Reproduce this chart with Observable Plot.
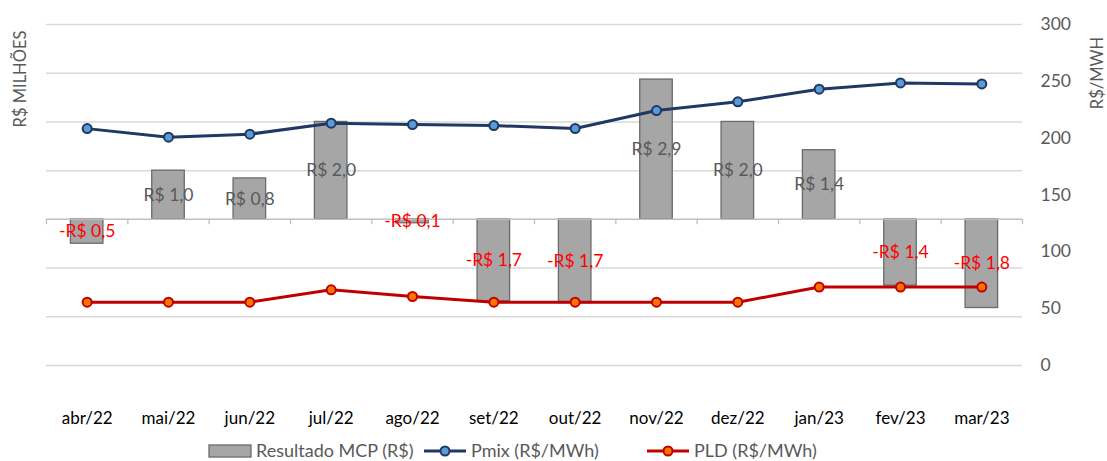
<!DOCTYPE html>
<html>
<head>
<meta charset="utf-8">
<script src="https://cdn.jsdelivr.net/npm/d3@7"></script>
<script src="https://cdn.jsdelivr.net/npm/@observablehq/plot@0.6"></script>
<style>
  html, body { margin: 0; padding: 0; background: #fff; }
  #wrap { position: relative; width: 1107px; height: 461px; overflow: hidden; font-family: Lato, "Liberation Sans", sans-serif; }
  #legend { position: absolute; left: 0; top: 441px; width: 1107px; height: 19px; font-size: 18px; line-height: 19px; color: #595959; white-space: nowrap; }
  #legend .item { position: absolute; top: 0; height: 19px; display: flex; align-items: center; }
  #legend svg { margin-right: 4px; display: block; }
  .atitle { position: absolute; font-size: 16.5px; color: #595959; white-space: nowrap; transform: translate(-50%, -50%) rotate(-90deg); }
</style>
</head>
<body>
<div id="wrap">
  <div id="chart"></div>
  <div class="atitle" id="ltitle" style="left:20px; top:79px;">R$ MILHÕES</div>
  <div class="atitle" id="rtitle" style="left:1097px; top:73px;">R$/MWH</div>
  <div id="legend"></div>
</div>
<script>
const months = ["abr/22","mai/22","jun/22","jul/22","ago/22","set/22","out/22","nov/22","dez/22","jan/23","fev/23","mar/23"];
const mcp = [-0.5, 1.0, 0.84, 2.0, -0.08, -1.68, -1.72, 2.87, 2.0, 1.42, -1.36, -1.82];
const pmix = [208.4, 200.9, 203.5, 213.2, 212.0, 211.1, 208.5, 224.3, 232.0, 243.1, 248.6, 247.7];
const pld = [55.7, 55.7, 55.7, 66.6, 60.7, 55.7, 55.7, 55.7, 55.7, 69.04, 69.04, 69.04];
const leftTicks = [-3, -2, -1, 0, 1, 2, 3, 4];
const rightTicks = [0, 50, 100, 150, 200, 250, 300];
const rightMax = 300;
const leftMin = -3, leftMax = 4;

// map right-axis values onto the left (primary) scale
const toLeft = v => leftMin + v / rightMax * (leftMax - leftMin);
const fromLeft = y => Math.round((y - leftMin) * rightMax / (leftMax - leftMin));

const data = months.map((m, i) => ({i, m, mcp: mcp[i], pmix: pmix[i], pld: pld[i]}));
const fmt = v => (v < 0 ? "-R$ " : "R$ ") + Math.abs(v).toFixed(1).replace(".", ",");
const boundaries = d3.range(months.length + 1).map(i => i - 0.5);

const chart = Plot.plot({
  width: 1107,
  height: 435,
  marginTop: 24,
  marginBottom: 70,
  marginLeft: 46,
  marginRight: 85,
  style: {fontFamily: "Lato, 'Liberation Sans', sans-serif", background: "#fff"},
  x: {type: "linear", domain: [-0.5, months.length - 0.5], label: null},
  y: {domain: [leftMin, leftMax], label: null},
  marks: [
    Plot.ruleY(leftTicks.filter(t => t !== 0), {stroke: "#d9d9d9", strokeWidth: 1.5}),
    Plot.rectY(data, {x1: d => d.i - 0.2, x2: d => d.i + 0.2, y1: 0, y2: "mcp", fill: "#a6a6a6", stroke: "#6b6b6b", strokeWidth: 1.3}),
    Plot.ruleY([0], {stroke: "#bfbfbf", strokeWidth: 1.5}),
    Plot.ruleX(boundaries, {x: d => d, y1: 0, y2: -0.11, stroke: "#bfbfbf", strokeWidth: 1.3}),
    Plot.line(data, {x: "i", y: d => toLeft(d.pmix), stroke: "#1f3864", strokeWidth: 3}),
    Plot.dot(data, {x: "i", y: d => toLeft(d.pmix), r: 4.5, fill: "#5b9bd5", stroke: "#1f3864", strokeWidth: 2}),
    Plot.line(data, {x: "i", y: d => toLeft(d.pld), stroke: "#c00000", strokeWidth: 3}),
    Plot.dot(data, {x: "i", y: d => toLeft(d.pld), r: 4.5, fill: "#ff7300", stroke: "#c00000", strokeWidth: 2}),
    Plot.text(data, {x: "i", y: d => d.mcp / 2, text: d => fmt(d.mcp), fill: d => d.mcp < 0 ? "#ff0000" : "#595959", fontSize: 17.5}),
    Plot.axisX({ticks: d3.range(months.length), tickFormat: i => months[i], tickSize: 0, tickPadding: 46, fontSize: 17, color: "#000", label: null}),
    Plot.axisY({anchor: "right", ticks: rightTicks.map(toLeft), tickFormat: fromLeft, tickSize: 0, tickPadding: 18, fontSize: 17.5, color: "#595959", textAnchor: "start", label: null})
  ]
});
document.getElementById("chart").appendChild(chart);

const legend = document.getElementById("legend");
const items = [
  {label: "Resultado MCP (R$)", type: "bar", left: 208},
  {label: "Pmix (R$/MWh)", type: "line", stroke: "#1f3864", fill: "#5b9bd5", left: 423},
  {label: "PLD (R$/MWh)", type: "line", stroke: "#c00000", fill: "#ff7300", left: 646}
];
for (const it of items) {
  const div = document.createElement("div");
  div.className = "item";
  div.style.left = it.left + "px";
  let sw;
  if (it.type === "bar") {
    sw = `<svg width="44" height="18"><rect x="1" y="3" width="42" height="12" fill="#a6a6a6" stroke="#6b6b6b" stroke-width="1.3"/></svg>`;
  } else {
    sw = `<svg width="44" height="18"><line x1="1" x2="43" y1="9" y2="9" stroke="${it.stroke}" stroke-width="3"/><circle cx="22" cy="9" r="4.5" fill="${it.fill}" stroke="${it.stroke}" stroke-width="2"/></svg>`;
  }
  div.innerHTML = sw + `<span>${it.label}</span>`;
  legend.appendChild(div);
}
</script>
</body>
</html>
